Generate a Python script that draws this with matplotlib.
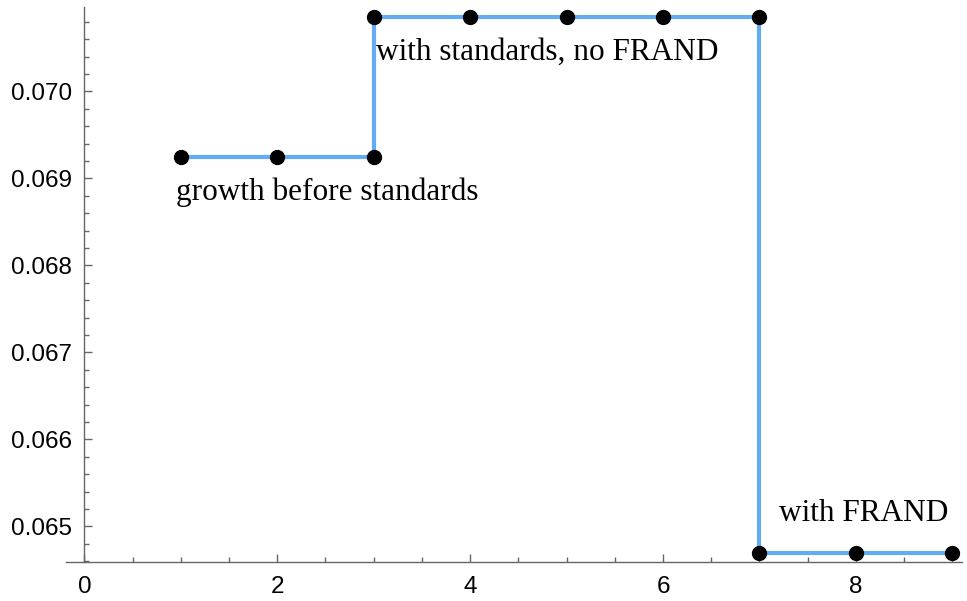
import matplotlib.pyplot as plt
from matplotlib.ticker import MultipleLocator, FormatStrFormatter

# three regimes of the step curve
x_before = [1, 2, 3]
y_before = [0.06924, 0.06924, 0.06924]
x_std = [3, 4, 5, 6, 7]
y_std = [0.07085, 0.07085, 0.07085, 0.07085, 0.07085]
x_frand = [7, 8, 9]
y_frand = [0.06469, 0.06469, 0.06469]

labels = ['growth before standards', 'with standards, no FRAND', 'with FRAND']

line_c = '#63acf5'
axis_c = '#666666'

fig = plt.figure(figsize=(9.67, 6.01), dpi=100)
ax = fig.add_axes([66 / 967, 39 / 601, (962 - 66) / 967, (594 - 39) / 601])

xs = x_before + x_std + x_frand
ys = y_before + y_std + y_frand
ax.plot(xs, ys, color=line_c, lw=3, zorder=2, solid_joinstyle='miter')
ax.plot(xs, ys, 'o', color='black', ms=10, zorder=3, clip_on=False)

ax.set_xlim(-0.19, 9.1)
ax.set_ylim(0.06459, 0.07097)

for s in ['top', 'right']:
    ax.spines[s].set_visible(False)
ax.spines['left'].set_position(('data', 0))
for s in ['left', 'bottom']:
    ax.spines[s].set_color(axis_c)
    ax.spines[s].set_linewidth(1.0)

ax.xaxis.set_major_locator(MultipleLocator(2))
ax.xaxis.set_minor_locator(MultipleLocator(0.5))
ax.yaxis.set_major_locator(MultipleLocator(0.001))
ax.yaxis.set_minor_locator(MultipleLocator(0.0002))
ax.yaxis.set_major_formatter(FormatStrFormatter('%.3f'))
ax.tick_params(which='both', direction='in', color=axis_c, width=1.0)
ax.tick_params(which='major', length=6, labelsize=17.5)
ax.tick_params(which='minor', length=3.5)
ax.tick_params(axis='x', pad=10)
ax.tick_params(axis='y', pad=9)
for t in ax.get_xticklabels() + ax.get_yticklabels():
    t.set_fontfamily('Liberation Sans')

serif = dict(fontsize=22.5, family='Liberation Serif', va='center', ha='left')
ax.text(0.95, 0.06884, labels[0], **serif)
ax.text(3.02, 0.07045, labels[1], **serif)
ax.text(7.2, 0.06515, labels[2], **serif)

fig.savefig('out.png', dpi=100, facecolor='white')
